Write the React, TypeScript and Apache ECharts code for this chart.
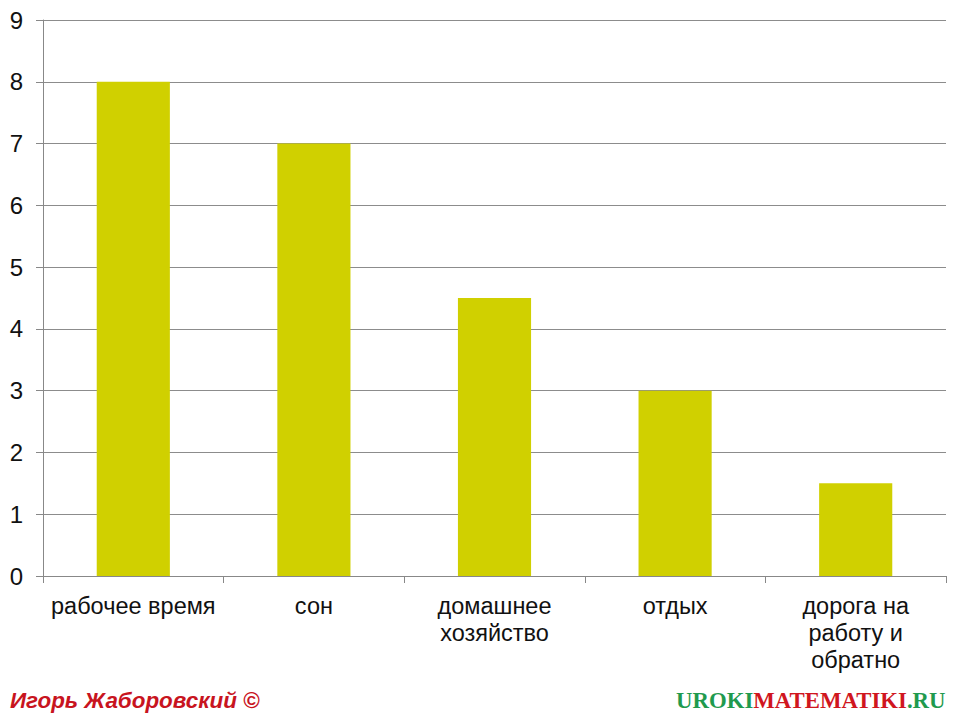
import React, { useEffect, useRef } from "react";
import * as echarts from "echarts";

const categories = ["рабочее время", "сон", "домашнее\nхозяйство", "отдых", "дорога на\nработу и\nобратно"];
const hours = [8, 7, 4.5, 3, 1.5];
const yTicks = [0, 1, 2, 3, 4, 5, 6, 7, 8, 9];

export default function App() {
  const ref = useRef<HTMLDivElement>(null);
  useEffect(() => {
    if (!ref.current) return;
    const chart = echarts.init(ref.current, null, { renderer: "svg" });
    chart.setOption({
      animation: false,
      backgroundColor: "#ffffff",
      grid: { left: 43, right: 14, top: 20, bottom: 144, containLabel: false },
      xAxis: {
        type: "category",
        data: categories,
        axisLine: { show: true, lineStyle: { color: "#888888", width: 1 } },
        axisTick: { show: true, length: 7, alignWithLabel: false, lineStyle: { color: "#888888" } },
        axisLabel: {
          interval: 0,
          margin: 16,
          color: "#111111",
          fontFamily: "Liberation Sans, Arial, sans-serif",
          fontSize: 23.5,
          lineHeight: 27,
        },
      },
      yAxis: {
        type: "value",
        min: yTicks[0],
        max: yTicks[yTicks.length - 1],
        interval: 1,
        axisLine: { show: true, lineStyle: { color: "#888888", width: 1 } },
        axisTick: { show: true, length: 7, lineStyle: { color: "#888888" } },
        splitLine: { show: true, lineStyle: { color: "#8c8c8c", width: 1 } },
        axisLabel: {
          margin: 20,
          color: "#111111",
          fontFamily: "Liberation Sans, Arial, sans-serif",
          fontSize: 24,
        },
      },
      series: [
        {
          type: "bar",
          data: hours,
          barWidth: "40.5%",
          itemStyle: { color: "#d0d000" },
        },
      ],
      graphic: [
        {
          type: "text",
          left: 10,
          top: 689,
          style: {
            text: "Игорь Жаборовский ©",
            fill: "#c8141e",
            font: "italic bold 22.4px Liberation Sans, Arial, sans-serif",
            shadowColor: "rgba(0,0,0,0.35)",
            shadowBlur: 2,
            shadowOffsetX: 1,
            shadowOffsetY: 1,
          },
        },
        {
          type: "text",
          left: 676,
          top: 689,
          style: {
            text: "{g|UROKI}{r|MATEMATIKI}{g|.RU}",
            rich: {
              g: { fill: "#1f9a4e", font: "bold 22.8px Liberation Serif, Times New Roman, serif" },
              r: { fill: "#d0161e", font: "bold 22.8px Liberation Serif, Times New Roman, serif" },
            },
          },
        },
      ],
    });
    return () => chart.dispose();
  }, []);
  return <div ref={ref} style={{ width: 960, height: 720, position: "absolute", left: 0, top: 0 }} />;
}
